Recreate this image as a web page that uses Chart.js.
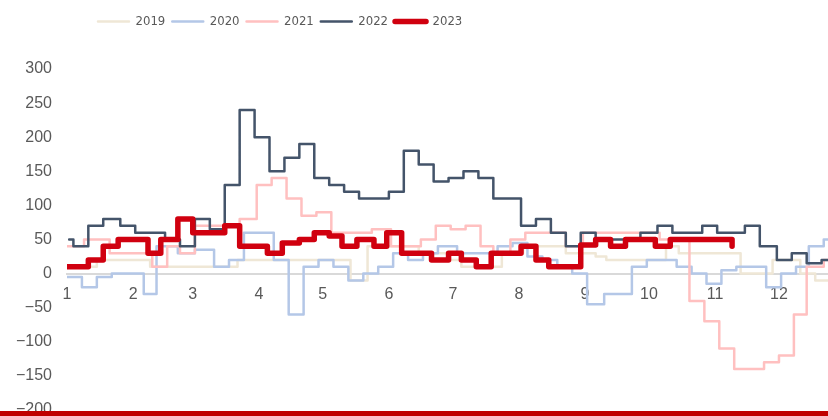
<!DOCTYPE html>
<html>
<head>
<meta charset="utf-8">
<script src="https://cdn.jsdelivr.net/npm/chart.js@4.4.0/dist/chart.umd.min.js"></script>
<style>
  html, body { margin: 0; padding: 0; background: #fff; }
  #wrap { position: relative; width: 828px; height: 416px; }
  #footerBar { position: absolute; left: 0; top: 411px; width: 828px; height: 5px; background: #c00000; }
</style>
</head>
<body>
<div id="wrap">
  <canvas id="chart" width="828" height="416"></canvas>
  <div id="footerBar"></div>
</div>
<script>
// ── AXIS ──
// day of year where each month starts, and the label shown there
const monthStarts = [1, 32, 60, 91, 121, 152, 182, 213, 244, 274, 305, 335];
const monthLabels = ['1', '2', '3', '4', '5', '6', '7', '8', '9', '10', '11', '12'];

// ── SERIES (day a level starts, level) ──
const days2019 = [1, 15, 40, 81, 134, 142, 166, 180, 186, 205, 215, 235, 249, 254, 282, 288, 317, 332, 345, 352, 358];
const vals2019 = [10, 20, 10, 20, -10, 40, 30, 20, 10, 30, 40, 30, 25, 20, 40, 30, 0, 20, 0, -10, -10];

const days2020 = [1, 8, 15, 22, 37, 43, 53, 61, 70, 77, 84, 98, 105, 112, 119, 126, 133, 140, 147, 154, 161, 168, 175, 184,
                  203, 210, 217, 224, 231, 238, 245, 253, 266, 273, 287, 294, 301, 308, 315, 329, 336, 343, 349, 356, 358];
const vals2020 = [-5, -20, -5, 0, -30, 40, 30, 35, 10, 20, 60, 20, -60, 10, 20, 10, -10, 0, 10, 30, 20, 30, 40, 30,
                  40, 45, 25, 20, 10, 0, -45, -30, 10, 20, 10, 0, -15, 5, 10, -20, 0, 10, 40, 50, 50];

const days2021 = [1, 9, 21, 41, 48, 54, 61, 82, 90, 97, 104, 111, 118, 125, 144, 153, 167, 174, 181, 188, 195, 201, 209, 216,
                  235, 243, 279, 293, 300, 307, 314, 328, 335, 342, 348, 356, 358];
const vals2021 = [40, 50, 30, 10, 40, 30, 70, 80, 130, 140, 110, 85, 90, 60, 65, 40, 50, 70, 65, 70, 40, 30, 50, 60,
                  40, 60, 50, -40, -70, -110, -140, -130, -120, -60, 10, 20, 20];

const days2022 = [2, 4, 11, 18, 26, 33, 47, 54, 61, 68, 75, 82, 89, 96, 103, 110, 117, 124, 131, 138, 152, 159, 166, 173,
                  180, 187, 194, 201, 214, 221, 228, 235, 242, 249, 270, 278, 285, 299, 306, 319, 326, 334, 341, 348, 355, 358];
const vals2022 = [50, 40, 70, 80, 70, 60, 50, 40, 80, 65, 130, 240, 200, 150, 170, 190, 140, 130, 120, 110, 120, 180, 160, 135,
                  140, 150, 140, 110, 70, 80, 60, 40, 60, 50, 60, 70, 60, 70, 60, 70, 40, 20, 30, 15, 20, 20];

const days2023 = [1, 11, 18, 25, 39, 45, 53, 60, 75, 82, 95, 102, 110, 117, 124, 130, 137, 145, 151, 158, 172, 180, 186, 193,
                  200, 214, 221, 227, 242, 249, 256, 263, 277, 284, 313];
const vals2023 = [10, 20, 40, 50, 30, 50, 80, 60, 70, 40, 30, 45, 50, 60, 55, 40, 50, 40, 60, 30, 20, 30, 20, 10,
                  30, 40, 20, 10, 42, 50, 40, 50, 40, 50, 40];

const TEXT = '#595959';
const LEGEND_LEFT = 91;
const LEGEND_TOP = 8;

function series(label, days, vals, color, width, order) {
  return {
    label,
    data: days.map((d, i) => ({ x: d, y: vals[i] })),
    borderColor: color,
    backgroundColor: color,
    borderWidth: width,
    stepped: true,
    pointRadius: 0,
    borderJoinStyle: 'round',
    borderCapStyle: 'round',
    order
  };
}

// legend sits left of centre and above the gap over the plot
const legendPlace = {
  id: 'legendPlace',
  afterLayout(chart) {
    const lg = chart.legend;
    if (!lg) return;
    const w = lg.right - lg.left, h = lg.bottom - lg.top;
    lg.left = LEGEND_LEFT; lg.right = LEGEND_LEFT + w;
    lg.top = LEGEND_TOP; lg.bottom = LEGEND_TOP + h;
  }
};

new Chart(document.getElementById('chart'), {
  type: 'line',
  data: {
    datasets: [
      series('2019', days2019, vals2019, '#efe7d6', 2.5, 5),
      series('2020', days2020, vals2020, '#b4c7e7', 2.5, 4),
      series('2021', days2021, vals2021, '#ffc0c0', 2.5, 3),
      series('2022', days2022, vals2022, '#44546a', 2.5, 2),
      series('2023', days2023, vals2023, '#d0000f', 5.5, 1)
    ]
  },
  options: {
    responsive: false,
    animation: false,
    events: [],
    layout: { padding: { top: 39, right: 0, bottom: 6, left: 0 } },
    plugins: {
      legend: {
        position: 'top',
        align: 'start',
        labels: {
          boxWidth: 31,
          boxHeight: 0,
          padding: 7,
          color: TEXT,
          font: { family: "'DejaVu Sans Condensed', sans-serif", size: 13 },
          sort: (a, b) => a.datasetIndex - b.datasetIndex
        }
      },
      tooltip: { enabled: false }
    },
    scales: {
      x: {
        type: 'linear',
        min: 1,
        max: 358,
        position: { y: 0 },
        grid: { display: false, drawTicks: false },
        border: { color: '#d9d9d9', width: 2 },
        afterBuildTicks: ax => { ax.ticks = monthStarts.map(v => ({ value: v })); },
        afterFit: ax => { ax.height = 0; },
        ticks: {
          autoSkip: false,
          maxRotation: 0,
          padding: 11,
          color: TEXT,
          font: { family: "'Liberation Sans', Arial, sans-serif", size: 16 },
          callback: v => monthLabels[monthStarts.indexOf(v)]
        }
      },
      y: {
        min: -200,
        max: 300,
        grid: { display: false, drawTicks: false },
        border: { display: false },
        afterFit: ax => { ax.width = 67; ax.paddingTop = 0; ax.paddingBottom = 0; },
        ticks: {
          stepSize: 50,
          padding: 15,
          color: TEXT,
          font: { family: "'Liberation Sans', Arial, sans-serif", size: 16 },
          callback: v => v < 0 ? '\u2212' + (-v) : String(v)
        }
      }
    }
  },
  plugins: [legendPlace]
});
</script>
</body>
</html>
